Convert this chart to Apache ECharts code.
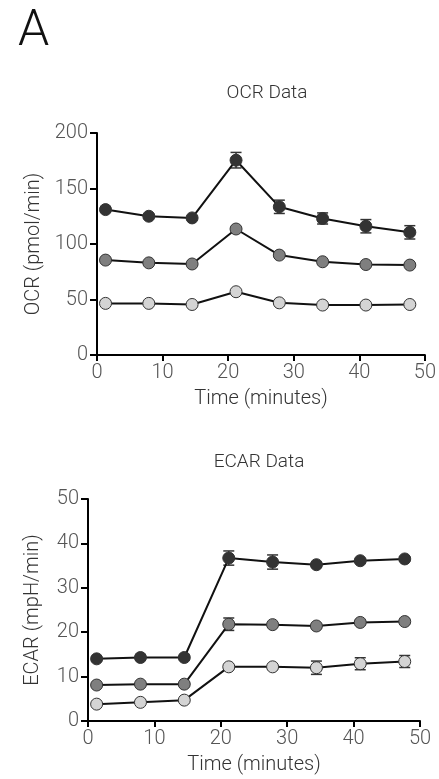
<!DOCTYPE html>
<html><head><meta charset="utf-8">
<script src="https://cdn.jsdelivr.net/npm/echarts@6/dist/echarts.min.js"></script>
<style>html,body{margin:0;padding:0;background:#fff}#c{width:439px;height:779px}</style>
</head><body><div id="c"></div>
<script>
var time = [1.3, 7.9, 14.5, 21.2, 27.8, 34.4, 41.0, 47.7];
var xTicks = [0, 10, 20, 30, 40, 50];
var ocrTicks = [0, 50, 100, 150, 200];
var ecarTicks = [0, 10, 20, 30, 40, 50];

var ocrHigh = [131, 125, 123.5, 175.5, 133.5, 123, 116, 110.5];
var ocrHighErr = [2, 2, 2, 7, 6, 5, 6, 6];
var ocrMid = [85.5, 83, 82, 113.5, 90, 84, 81.5, 81];
var ocrMidErr = [1.5, 1.5, 1.5, 2, 2, 1.5, 1.5, 1.5];
var ocrLow = [46.5, 46.5, 45.5, 57, 47, 45, 45, 45.5];
var ocrLowErr = [1, 1, 1, 1.5, 1, 1, 1, 1];

var ecarHigh = [14.0, 14.3, 14.3, 36.7, 35.8, 35.2, 36.1, 36.5];
var ecarHighErr = [0.5, 0.5, 0.5, 1.6, 1.6, 0.5, 0.5, 0.5];
var ecarMid = [8.1, 8.3, 8.3, 21.8, 21.7, 21.4, 22.2, 22.4];
var ecarMidErr = [0.4, 0.4, 0.4, 1.4, 0.5, 0.5, 0.5, 0.5];
var ecarLow = [3.8, 4.2, 4.7, 12.2, 12.2, 12.0, 12.9, 13.4];
var ecarLowErr = [0.3, 0.3, 0.3, 0.5, 0.5, 1.5, 1.35, 1.35];

var colors = {high: '#333333', mid: '#7f7f7f', low: '#d4d4d4'};
var FONT = 'Roboto';

function pairs(xs, ys) { return xs.map(function (x, i) { return [x, ys[i]]; }); }
function errData(xs, ys, es) { return xs.map(function (x, i) { return [x, ys[i] - es[i], ys[i] + es[i]]; }); }

function lineSeries(idx, ys, color) {
  return {
    type: 'line', xAxisIndex: idx, yAxisIndex: idx, data: pairs(time, ys),
    symbol: 'circle', symbolSize: 12, z: 4,
    lineStyle: {color: '#111', width: 2},
    itemStyle: {color: color, borderColor: '#333', borderWidth: 1},
    emphasis: {disabled: true}
  };
}
function errSeries(idx, ys, es) {
  return {
    type: 'custom', xAxisIndex: idx, yAxisIndex: idx, z: 3,
    data: errData(time, ys, es),
    renderItem: function (params, api) {
      var x = api.value(0);
      var lo = api.coord([x, api.value(1)]);
      var hi = api.coord([x, api.value(2)]);
      var w = 5.5;
      var st = {stroke: '#333', lineWidth: 1.5};
      return {type: 'group', children: [
        {type: 'line', shape: {x1: lo[0], y1: lo[1], x2: hi[0], y2: hi[1]}, style: st},
        {type: 'line', shape: {x1: lo[0] - w, y1: lo[1], x2: lo[0] + w, y2: lo[1]}, style: st},
        {type: 'line', shape: {x1: hi[0] - w, y1: hi[1], x2: hi[0] + w, y2: hi[1]}, style: st}
      ]};
    }
  };
}

function xAxis(idx) {
  return {
    type: 'value', gridIndex: idx, min: xTicks[0], max: xTicks[xTicks.length - 1], interval: 10,
    name: 'Time (minutes)', nameLocation: 'middle', nameGap: 34,
    nameTextStyle: {fontFamily: FONT, fontSize: 20, color: '#333', fontWeight: 300},
    axisLine: {lineStyle: {color: '#000', width: 2}},
    axisTick: {length: 6, lineStyle: {color: '#000', width: 2}},
    axisLabel: {fontFamily: FONT, fontSize: 20, color: '#555', fontWeight: 300, margin: 8},
    splitLine: {show: false}
  };
}
function yAxis(idx, ticks, name, interval, gap) {
  return {
    type: 'value', gridIndex: idx, min: ticks[0], max: ticks[ticks.length - 1], interval: interval,
    name: name, nameLocation: 'middle', nameGap: gap, nameRotate: 90,
    nameTextStyle: {fontFamily: FONT, fontSize: 20, color: '#333', fontWeight: 300},
    axisLine: {show: true, lineStyle: {color: '#000', width: 2}},
    axisTick: {show: true, length: 7, lineStyle: {color: '#000', width: 2}},
    axisLabel: {fontFamily: FONT, fontSize: 20, color: '#555', fontWeight: 300, margin: 9},
    splitLine: {show: false}
  };
}

var chart = echarts.init(document.getElementById('c'));
chart.setOption({
  animation: false,
  backgroundColor: '#fff',
  title: [
    {text: 'A', left: 13, top: 2, textStyle: {fontFamily: FONT, fontSize: 50, fontWeight: 300, color: '#111'}},
    {text: 'OCR Data', left: 262, top: 79, textAlign: 'center', textStyle: {fontFamily: FONT, fontSize: 19, fontWeight: 300, color: '#333'}},
    {text: 'ECAR Data', left: 254, top: 448, textAlign: 'center', textStyle: {fontFamily: FONT, fontSize: 19, fontWeight: 300, color: '#333'}}
  ],
  grid: [
    {left: 97, top: 133, width: 330, height: 222},
    {left: 88, top: 499, width: 332, height: 222}
  ],
  xAxis: [xAxis(0), xAxis(1)],
  yAxis: [yAxis(0, ocrTicks, 'OCR (pmol/min)', 50, 53), yAxis(1, ecarTicks, 'ECAR (mpH/min)', 10, 45)],
  series: [
    lineSeries(0, ocrHigh, colors.high), errSeries(0, ocrHigh, ocrHighErr),
    lineSeries(0, ocrMid, colors.mid), errSeries(0, ocrMid, ocrMidErr),
    lineSeries(0, ocrLow, colors.low), errSeries(0, ocrLow, ocrLowErr),
    lineSeries(1, ecarHigh, colors.high), errSeries(1, ecarHigh, ecarHighErr),
    lineSeries(1, ecarMid, colors.mid), errSeries(1, ecarMid, ecarMidErr),
    lineSeries(1, ecarLow, colors.low), errSeries(1, ecarLow, ecarLowErr)
  ]
});
</script></body></html>
